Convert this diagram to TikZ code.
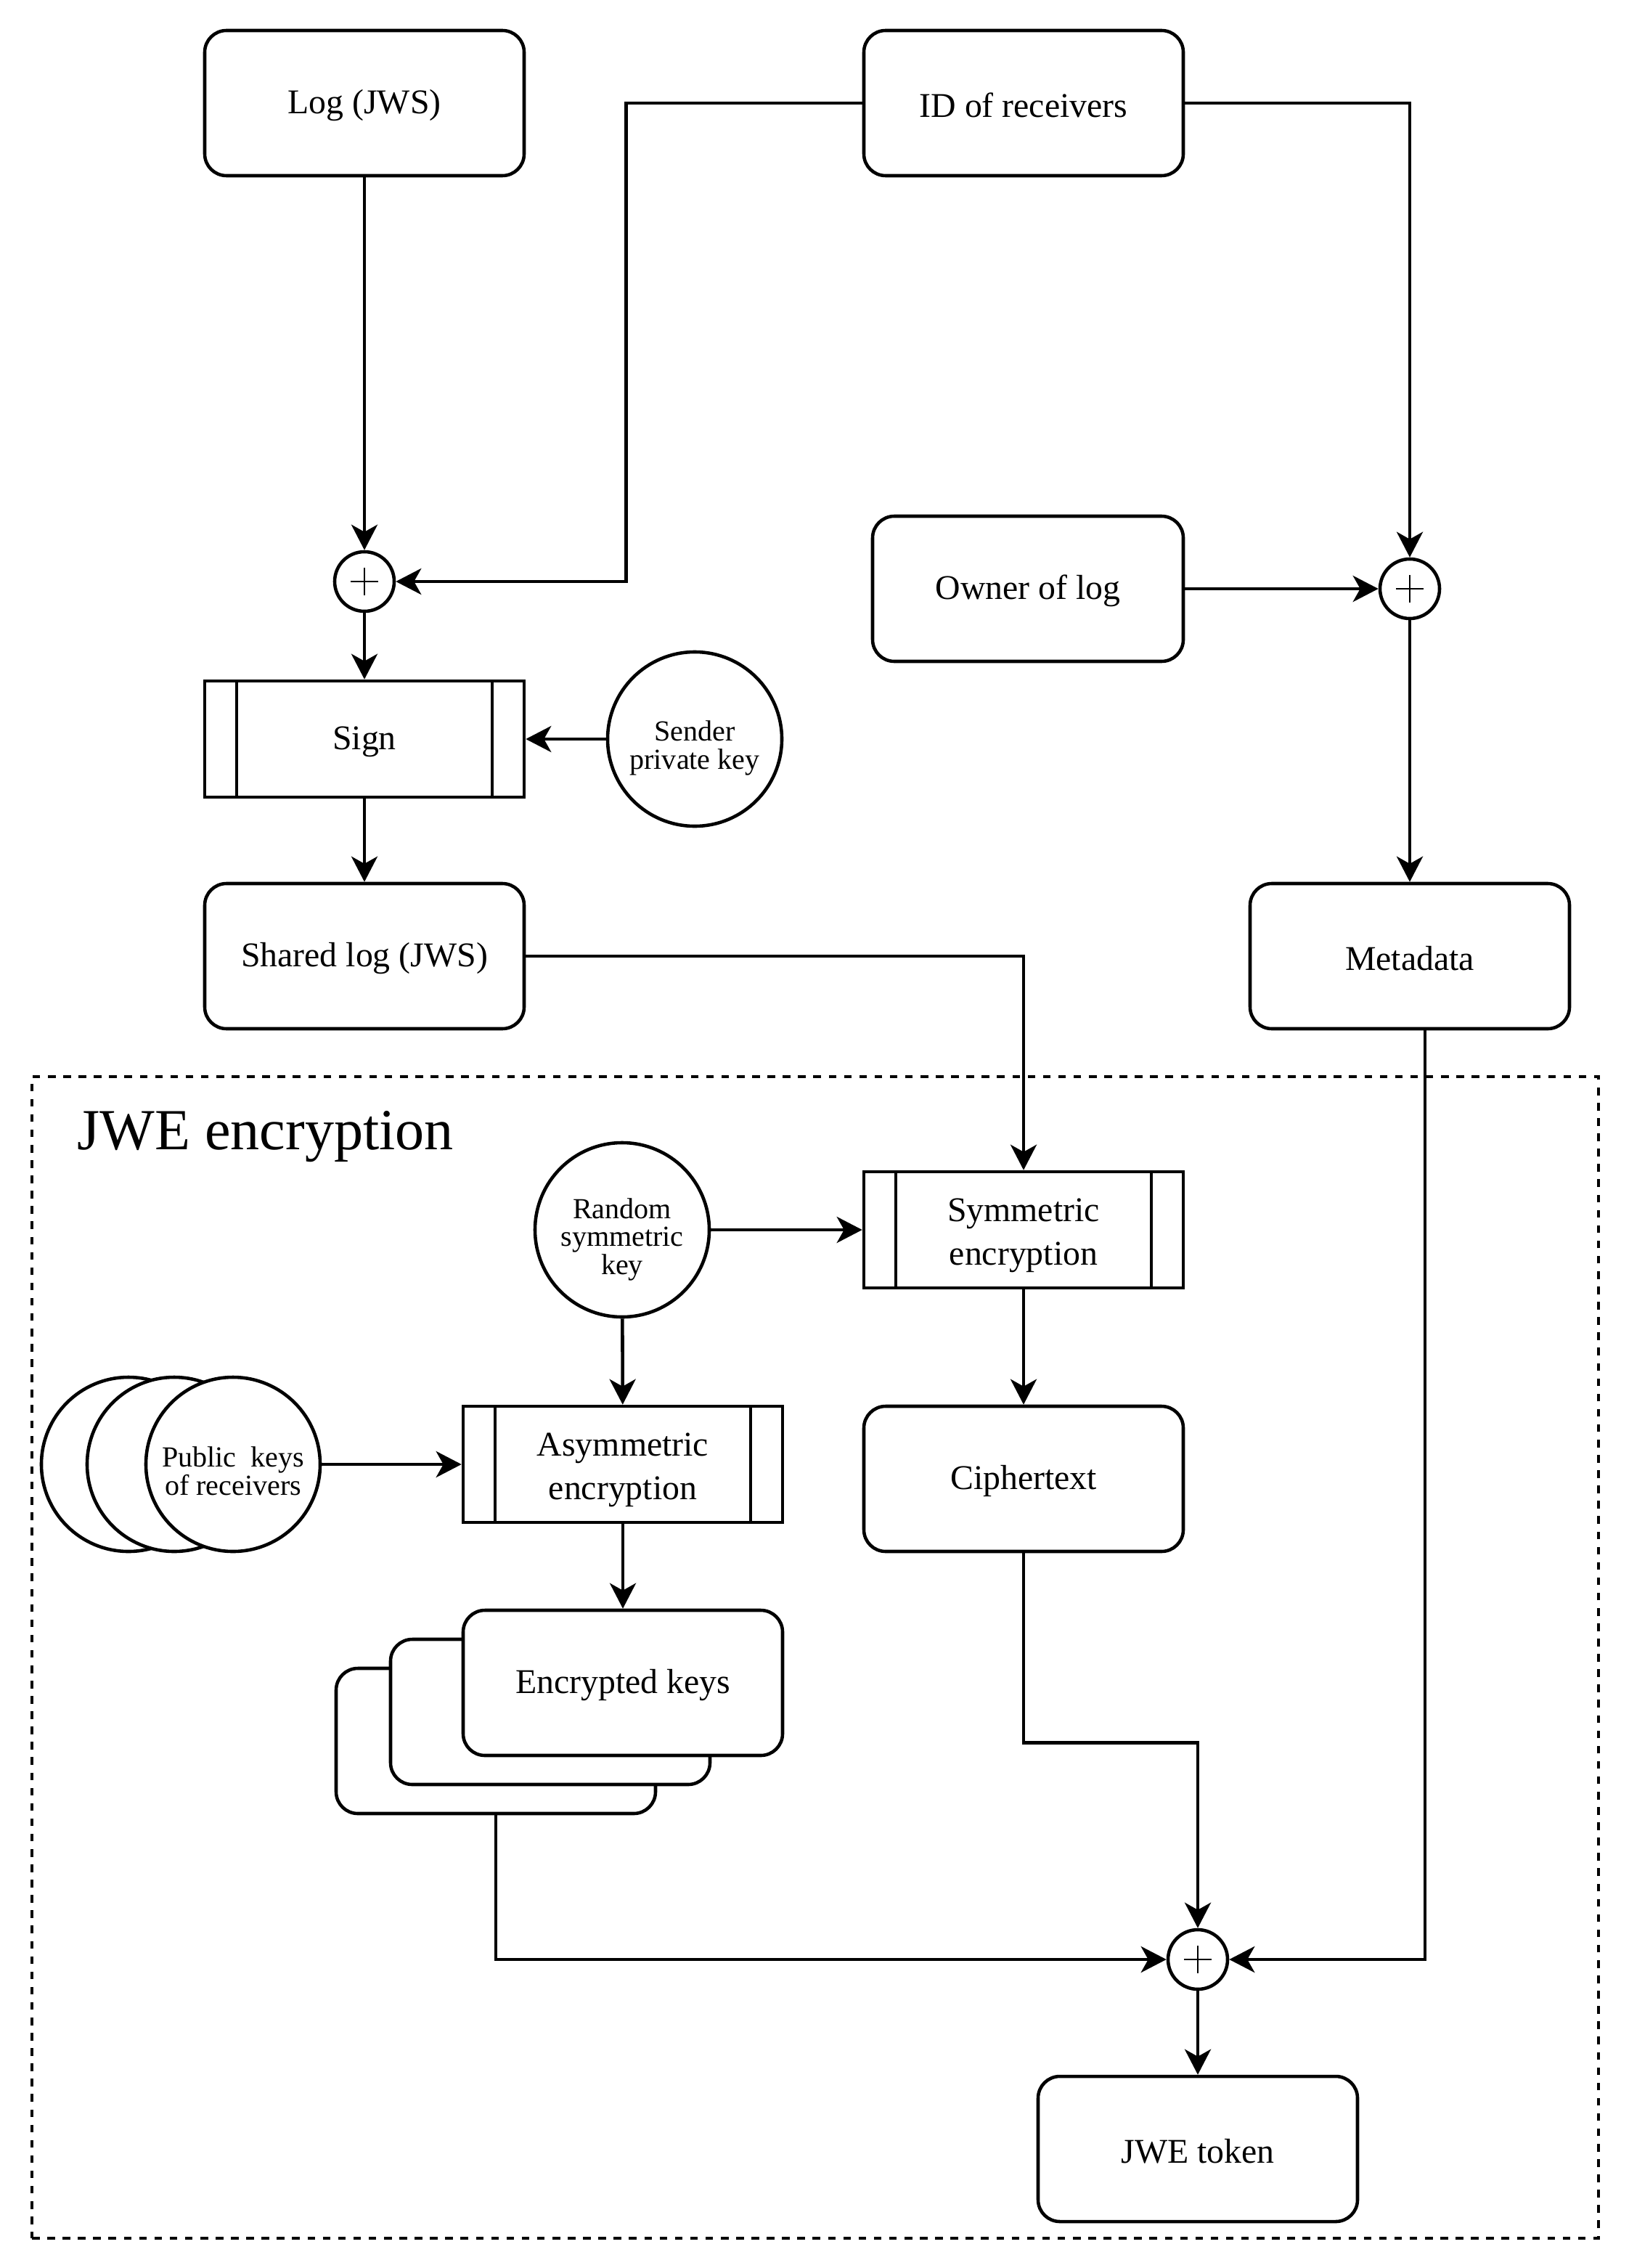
\documentclass[tikz,border=0pt]{standalone}
\usepackage{fontspec}
\setmainfont{Liberation Serif}
\usetikzlibrary{arrows.meta, positioning, calc}
\newcommand{\padtop}[1]{\rule{0pt}{#1}}

\begin{document}
\begin{tikzpicture}[
    line width=1.3pt,
    >={Stealth[length=0.35cm, width=0.36cm, inset=0.1cm]},
    box/.style={draw, fill=white, rounded corners=0.3cm, minimum width=4.4cm, minimum height=2cm, align=center,
        font=\fontsize{13.6}{17}\selectfont, execute at begin node=\padtop{11.2pt}},
    proc/.style={draw, fill=white, minimum width=4.4cm, minimum height=1.6cm, align=center,
        font=\fontsize{13.6}{17}\selectfont, execute at begin node=\padtop{11.2pt},
        path picture={\draw ([xshift=0.44cm]path picture bounding box.north west) -- ([xshift=0.44cm]path picture bounding box.south west)
            ([xshift=-0.44cm]path picture bounding box.north east) -- ([xshift=-0.44cm]path picture bounding box.south east);}},
    key/.style={draw, fill=white, circle, minimum size=2.4cm, inner sep=0pt, align=center,
        font=\fontsize{11.4}{11}\selectfont},
    plus/.style={draw, fill=white, circle, minimum size=0.82cm, inner sep=0pt,
        path picture={\draw[line width=0.7pt] ([xshift=-0.19cm]path picture bounding box.center) -- ([xshift=0.19cm]path picture bounding box.center)
            ([yshift=-0.19cm]path picture bounding box.center) -- ([yshift=0.19cm]path picture bounding box.center);}}
]
\useasboundingbox (0,0) rectangle (22.44,-31.24);

% signing part
\node[box] (log) at (5.02,-1.42) {Log (JWS)};
\node[box] (recv) at (14.10,-1.42) {ID of receivers};
\node[plus] (sum1) at (5.02,-8.01) {};
\node[proc] (sign) at (5.02,-10.18) {Sign};
\node[key] (sender) at (9.57,-10.18) {\padtop{15pt}Sender\\private key};
\node[box] (shared) at (5.02,-13.17) {Shared log (JWS)};
\node[box, minimum width=4.28cm] (owner) at (14.16,-8.11) {Owner of log};
\node[plus] (sum2) at (19.42,-8.11) {};
\node[box] (meta) at (19.42,-13.17) {Metadata};

% JWE encryption
\node[draw, dash pattern=on 3pt off 3pt, minimum width=21.58cm, minimum height=16cm] (frame) at (11.23,-22.83) {};
\node[anchor=base west, inner sep=0pt, font=\fontsize{22.8}{27}\selectfont] (title) at (1.04,-15.83) {JWE encryption};
\node[key] (rkey) at (8.57,-16.94) {\padtop{15.5pt}Random\\symmetric\\key};
\node[proc] (sym) at (14.10,-16.94) {\padtop{13.5pt}Symmetric\\encryption};
\node[key] (pub3) at (1.77,-20.17) {};
\node[key] (pub2) at (2.40,-20.17) {};
\node[key] (pub) at (3.21,-20.17) {\padtop{13pt}Public\ \ keys\\of receivers};
\node[proc] (asym) at (8.58,-20.17) {\padtop{13.5pt}Asymmetric\\encryption};
\node[box] (ciph) at (14.10,-20.37) {Ciphertext};
\node[box] (enc3) at (6.83,-23.98) {};
\node[box] (enc2) at (7.58,-23.58) {};
\node[box] (enc) at (8.58,-23.18) {Encrypted keys};
\node[plus] (sum3) at (16.50,-26.99) {};
\node[box] (token) at (16.50,-29.60) {JWE token};

% connectors
\draw[->] (log) -- (sum1);
\draw[->] (recv.west) -- ++(-3.25,0) |- (sum1.east);
\draw[->] (recv.east) -| (sum2.north);
\draw[->] (owner.east) -- (sum2.west);
\draw[->] (sum1) -- (sign);
\draw[->] (sender) -- (sign);
\draw[->] (sign) -- (shared);
\draw[->] (sum2) -- (meta);
\draw[->] (shared.east) -| (sym.north);
\draw[->] (rkey) -- (sym);
\draw[->] (rkey) -- (asym);
\draw[->] (pub.east) -- (asym.west);
\draw[->] (asym) -- (enc);
\draw[->] (sym) -- (ciph);
\draw[->] (ciph.south) -- ++(0,-2.61) -| (sum3.north);
\draw[->] (enc3.south) |- (sum3.west);
\draw[->] ([xshift=0.21cm]meta.south) |- (sum3.east);
\draw[->] (sum3) -- (token);
\end{tikzpicture}
\end{document}
